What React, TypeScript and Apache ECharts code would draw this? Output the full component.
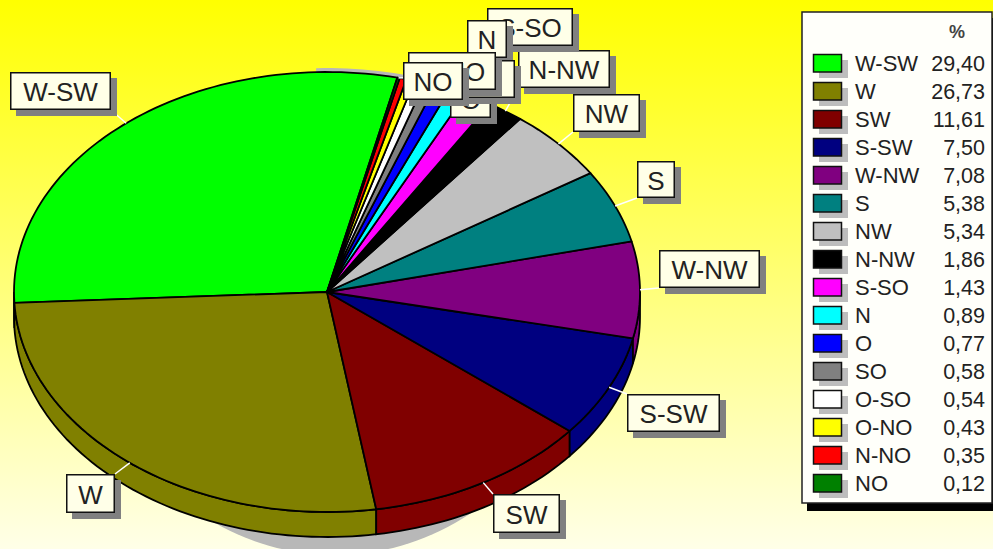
import React, { useEffect, useRef } from "react";
import * as echarts from "echarts";

const categories = ["W-SW", "W", "SW", "S-SW", "W-NW", "S", "NW", "N-NW", "S-SO", "N", "O", "SO", "O-SO", "O-NO", "N-NO", "NO"];
const values = [29.4, 26.73, 11.61, 7.5, 7.08, 5.38, 5.34, 1.86, 1.43, 0.89, 0.77, 0.58, 0.54, 0.43, 0.35, 0.12];
const colors = ["#00ff00", "#808000", "#800000", "#000080", "#800080", "#008080", "#c0c0c0", "#000000", "#ff00ff", "#00ffff", "#0000ff", "#808080", "#ffffff", "#ffff00", "#ff0000", "#008000"];

// label boxes [x0, y0, x1, y1], layout only
const labelBoxes = [
  [10, 72, 111, 110], [66, 474, 115, 513], [493, 494, 560, 533], [627, 394, 720, 432],
  [659, 250, 760, 288], [637, 161, 675, 198], [573, 94, 640, 132], [518, 50, 610, 88],
  [487, 8, 573, 46], [467, 20, 507, 58], [450, 80, 491, 118], [448, 60, 515, 98],
  [408, 52, 496, 90], [408, 52, 496, 90], [408, 52, 496, 90], [403, 62, 463, 100],
];

const PIE = { cx: 327, cy: 292, rx: 313, ry: 220, depth: 25, start: 77 };
const FONT = '"Liberation Sans", Arial, sans-serif';
const total = values.reduce((a, b) => a + b, 0);
const spans = (() => {
  let a = PIE.start;
  return values.map((v) => {
    const s = a;
    a += (v / total) * 360;
    return [s, a];
  });
})();

const rim = (deg: number, dy = 0) => {
  const t = (deg * Math.PI) / 180;
  return [PIE.cx + PIE.rx * Math.cos(t), PIE.cy - PIE.ry * Math.sin(t) + dy];
};
const arc = (a: number, b: number, dy = 0) => {
  const n = Math.max(2, Math.ceil(Math.abs(b - a) / 1.5));
  const pts: number[][] = [];
  for (let i = 0; i <= n; i++) pts.push(rim(a + ((b - a) * i) / n, dy));
  return pts;
};
const ellipsePts = (cx: number, cy: number, rx: number, ry: number) => {
  const pts: number[][] = [];
  for (let d = 0; d < 360; d += 2) {
    const t = (d * Math.PI) / 180;
    pts.push([cx + rx * Math.cos(t), cy + ry * Math.sin(t)]);
  }
  return pts;
};

const legendGraphics = () => {
  const els: any[] = [
    { type: "rect", shape: { x: 807, y: 18, width: 190, height: 493 }, style: { fill: "#000" } },
    { type: "rect", shape: { x: 802, y: 12, width: 190, height: 491 }, style: { fill: "#fffffa", stroke: "#222", lineWidth: 1.5 } },
    { type: "text", style: { text: "%", x: 957, y: 32, fill: "#444", font: `bold 18px ${FONT}`, textAlign: "center", textVerticalAlign: "middle" } },
  ];
  categories.forEach((name, i) => {
    const y = 54 + 28 * i;
    els.push(
      { type: "rect", shape: { x: 819, y: y + 6, width: 29, height: 18 }, style: { fill: "#bdbdbd" } },
      { type: "rect", shape: { x: 813.5, y: y + 0.5, width: 28, height: 17.5 }, style: { fill: colors[i], stroke: "#111", lineWidth: 1.5 } },
      { type: "text", style: { text: name, x: 855, y: y + 9.5, fill: "#222", font: `22px ${FONT}`, textAlign: "left", textVerticalAlign: "middle" } },
      { type: "text", style: { text: values[i].toFixed(2).replace(".", ","), x: 985, y: y + 9.5, fill: "#222", font: `21.5px ${FONT}`, textAlign: "right", textVerticalAlign: "middle" } },
    );
  });
  return els;
};

const option: any = {
  animation: false,
  backgroundColor: new echarts.graphic.LinearGradient(0, 0, 0, 1, [
    { offset: 0, color: "#ffff00" },
    { offset: 1, color: "#ffffe8" },
  ]),
  graphic: { elements: legendGraphics() },
  series: [
    {
      type: "custom",
      coordinateSystem: "none",
      silent: true,
      z: 1,
      data: [0],
      renderItem: () => ({
        type: "group",
        children: [
          { type: "polygon", shape: { points: ellipsePts(335, 316, 240, 239) }, style: { fill: "#b8b8b8" } },
          { type: "polygon", shape: { points: [...arc(72, 92, -4), ...arc(92, 72, 2)] }, style: { fill: "#b8b8b8" } },
        ],
      }),
    },
    {
      type: "custom",
      coordinateSystem: "none",
      silent: true,
      z: 2,
      data: values,
      renderItem: (params: any) => {
        const [a, b] = spans[params.dataIndex];
        const s = Math.max(a, 180);
        const e = Math.min(b, 360);
        if (e <= s) return { type: "group", children: [] };
        return {
          type: "polygon",
          shape: { points: [...arc(s, e), ...arc(e, s, PIE.depth)] },
          style: { fill: colors[params.dataIndex], stroke: "#000", lineWidth: 1.8 },
        };
      },
    },
    {
      type: "custom",
      coordinateSystem: "none",
      silent: true,
      z: 3,
      data: values,
      renderItem: (params: any) => {
        const [a, b] = spans[params.dataIndex];
        return {
          type: "polygon",
          shape: { points: [[PIE.cx, PIE.cy], ...arc(a, b)] },
          style: { fill: colors[params.dataIndex], stroke: "#000", lineWidth: 1.8, lineJoin: "round" },
        };
      },
    },
    {
      type: "custom",
      coordinateSystem: "none",
      silent: true,
      z: 4,
      data: values,
      renderItem: (params: any) => {
        const i = params.dataIndex;
        const [a, b] = spans[i];
        const mid = (a + b) / 2;
        const [px, py] = rim(mid);
        const [x0, y0, x1, y1] = labelBoxes[i];
        const qx = Math.min(x1, Math.max(x0, px));
        const qy = Math.min(y1, Math.max(y0, py));
        return {
          type: "line",
          shape: { x1: px, y1: py, x2: qx, y2: qy },
          style: { stroke: "#ffffff", lineWidth: 1.5 },
        };
      },
    },
    {
      type: "custom",
      coordinateSystem: "none",
      silent: true,
      z: 5,
      data: values,
      renderItem: (params: any) => {
        const i = params.dataIndex;
        const [x0, y0, x1, y1] = labelBoxes[i];
        return {
          type: "group",
          children: [
            { type: "rect", shape: { x: x0 + 6, y: y0 + 6, width: x1 - x0, height: y1 - y0 }, style: { fill: "#808080" } },
            { type: "rect", shape: { x: x0 + 0.75, y: y0 + 0.75, width: x1 - x0 - 1.5, height: y1 - y0 - 1.5 }, style: { fill: "#ffffe8", stroke: "#111", lineWidth: 1.5 } },
            { type: "text", style: { text: categories[i], x: (x0 + x1) / 2, y: (y0 + y1) / 2 + 1, fill: "#222", font: `26px ${FONT}`, textAlign: "center", textVerticalAlign: "middle" } },
          ],
        };
      },
    },
  ],
};

export default function App() {
  const ref = useRef<HTMLDivElement>(null);
  useEffect(() => {
    const chart = echarts.init(ref.current!, undefined, { renderer: "svg" });
    chart.setOption(option);
    return () => chart.dispose();
  }, []);
  return <div ref={ref} style={{ position: "fixed", left: 0, top: 0, width: 993, height: 549 }} />;
}
